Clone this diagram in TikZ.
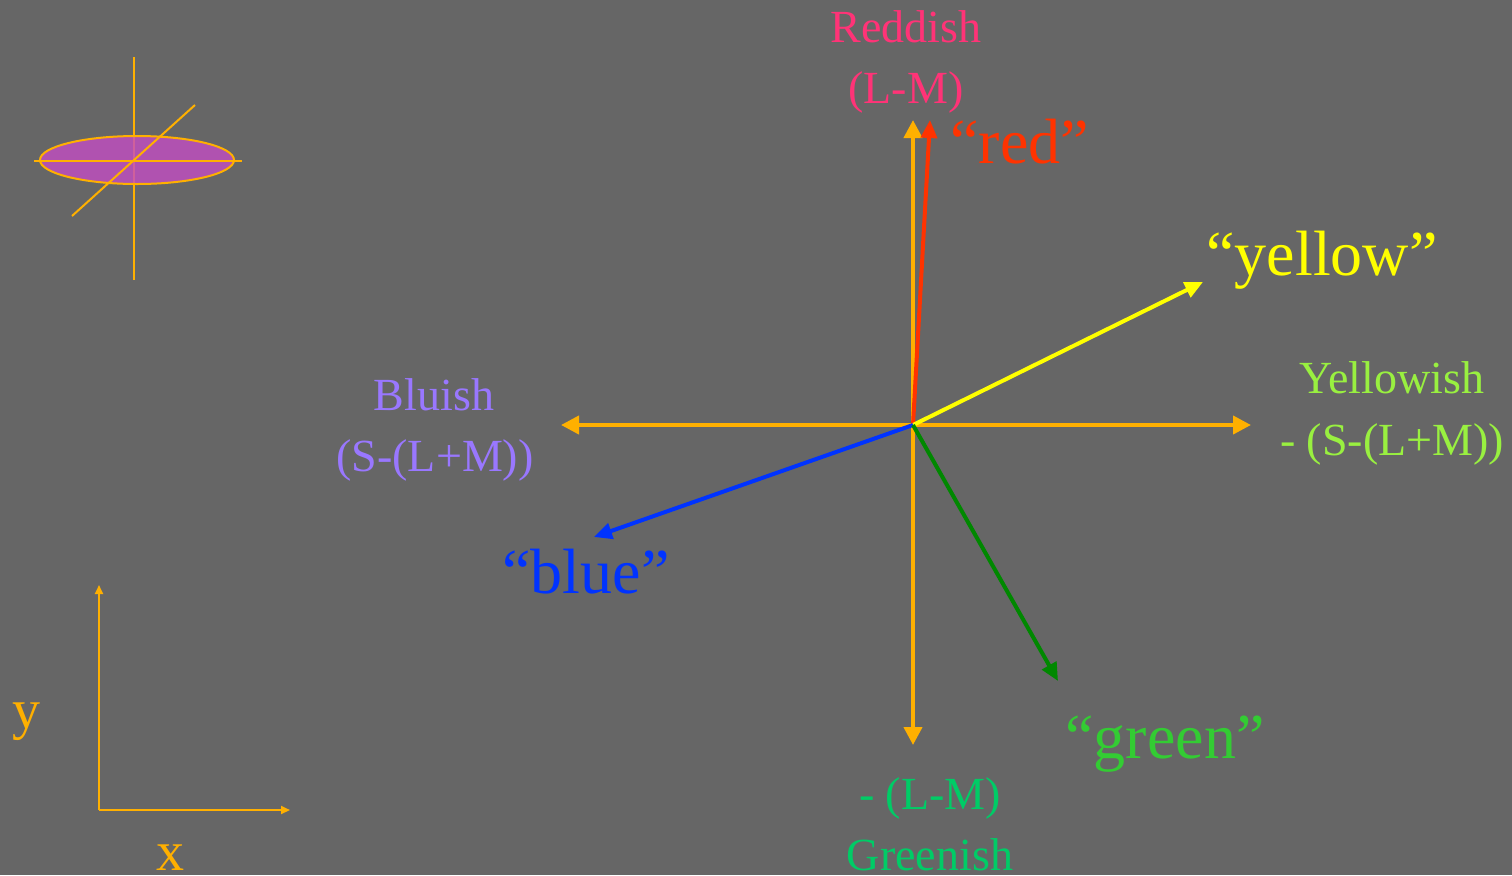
\documentclass[tikz,border=0pt]{standalone}
\usepackage{fontspec}
\setmainfont{Liberation Serif}
\usetikzlibrary{arrows.meta,positioning}
\definecolor{bggray}{HTML}{666666}
\definecolor{axisorange}{HTML}{FFB000}
\definecolor{vecred}{HTML}{FF3300}
\definecolor{vecyellow}{HTML}{FFFF00}
\definecolor{vecblue}{HTML}{0033FF}
\definecolor{vecgreen}{HTML}{008800}
\definecolor{txtgreen}{HTML}{33CC33}
\definecolor{reddishcol}{HTML}{FF3377}
\definecolor{yellowishcol}{HTML}{99F040}
\definecolor{bluishcol}{HTML}{9977FF}
\definecolor{greenishcol}{HTML}{00CC66}
\definecolor{blobfill}{RGB}{195,77,195}

\begin{document}
\begin{tikzpicture}[
  x=0.5pt, y=-0.5pt,
  axis/.style={draw=axisorange, line width=2pt, -{Triangle[length=9pt,width=9pt]}},
  vec/.style={line width=2pt, -{Triangle[length=9pt,width=8pt]}},
  small axis/.style={draw=axisorange, line width=1pt, -{Triangle[length=4.5pt,width=4pt]}},
  iconline/.style={draw=axisorange, line width=1pt},
  lbl/.style={anchor=base, inner sep=0pt, font=\fontsize{23}{28}\selectfont},
  big/.style={anchor=base, inner sep=0pt, font=\fontsize{32}{38}\selectfont},
]
\path[use as bounding box, fill=bggray] (0,0) rectangle (1512,875);

% Icon
\draw[iconline] (134,57) -- (134,280);
\fill[blobfill, fill opacity=0.8] (137,160) ellipse [x radius=48.5pt, y radius=12pt];
\draw[iconline] (137,160) ellipse [x radius=48.5pt, y radius=12pt];
\draw[iconline] (34,161) -- (242,161);
\draw[iconline] (72,216) -- (195,105);

% Small x-y frame
\coordinate (c0) at (99,810);
\coordinate (cy) at (99,585);
\coordinate (cx) at (290,810);
\draw[small axis] (c0) -- (cy);
\draw[small axis] (c0) -- (cx);
\node[big, text=axisorange, font=\fontsize{28}{34}\selectfont] (ylab) at (26,728) {y};
\node[big, text=axisorange, font=\fontsize{28}{34}\selectfont] (xlab) at (170,870) {x};

% Opponent axes
\coordinate (o) at (913,425);
\coordinate (up) at (913,120);
\coordinate (down) at (913,745);
\coordinate (left) at (561,425);
\coordinate (right) at (1251,425);
\draw[axis] (o) -- (up);
\draw[axis] (o) -- (down);
\draw[axis] (o) -- (left);
\draw[axis] (o) -- (right);

% Colour vectors
\coordinate (tred) at (930,120);
\coordinate (tyellow) at (1203,282);
\coordinate (tblue) at (594,537);
\coordinate (tgreen) at (1058,681);
\draw[vec, vecred] (o) -- (tred);
\draw[vec, vecyellow] (o) -- (tyellow);
\draw[vec, vecblue] (o) -- (tblue);
\draw[vec, vecgreen] (o) -- (tgreen);

% Axis labels
\node[lbl, text=reddishcol] (reddish) at (906,42) {Reddish};
\node[lbl, text=reddishcol] (lm) at (906,103) {(L-M)};
\node[lbl, text=yellowishcol] (yellowish) at (1392,393) {Yellowish};
\node[lbl, text=yellowishcol] (negslm) at (1392,455) {- (S-(L+M))};
\node[lbl, text=bluishcol] (bluish) at (434,410) {Bluish};
\node[lbl, text=bluishcol] (slm) at (435,471) {(S-(L+M))};
\node[lbl, text=greenishcol] (neglm) at (930,809) {- (L-M)};
\node[lbl, text=greenishcol] (greenish) at (930,870) {Greenish};

% Vector labels
\node[big, anchor=base west, text=vecred] (redlab) at (950,163) {“red”};
\node[big, text=vecyellow] (yellowlab) at (1322,275) {“yellow”};
\node[big, text=vecblue] (bluelab) at (586,593) {“blue”};
\node[big, text=txtgreen] (greenlab) at (1165,758) {“green”};
\end{tikzpicture}
\end{document}
